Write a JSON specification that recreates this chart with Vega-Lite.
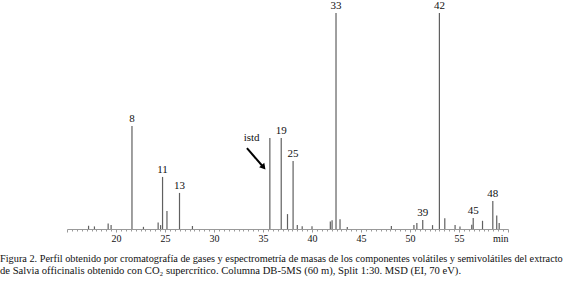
{
  "$schema": "https://vega.github.io/schema/vega-lite/v6.json",
  "width": 441,
  "height": 224,
  "autosize": "none",
  "padding": {"left": 67, "top": 5, "right": 58, "bottom": 52},
  "background": "white",
  "config": {"view": {"stroke": null}, "font": "Liberation Serif"},
  "title": {
    "text": "Figura 2. Perfil obtenido por cromatografía de gases y espectrometría de masas de los componentes volátiles y semivolátiles del extracto",
    "subtitle": "de Salvia officinalis obtenido con CO₂ supercrítico. Columna DB-5MS (60 m), Split 1:30. MSD (EI, 70 eV).",
    "orient": "bottom",
    "anchor": "start",
    "frame": "group",
    "dx": -67,
    "offset": 11,
    "font": "Liberation Serif",
    "fontSize": 10.3,
    "fontWeight": "normal",
    "color": "#111",
    "subtitleFont": "Liberation Serif",
    "subtitleFontSize": 10.6,
    "subtitleColor": "#111",
    "subtitlePadding": 1.5
  },
  "datasets": {
    "peaks": [
      {"t": 17.2, "h": 1.5, "label": ""},
      {"t": 17.8, "h": 1.2, "label": ""},
      {"t": 19.2, "h": 2.5, "label": ""},
      {"t": 19.5, "h": 1.8, "label": ""},
      {"t": 21.63, "h": 47.7, "label": "8"},
      {"t": 22.8, "h": 1.0, "label": ""},
      {"t": 24.3, "h": 3.0, "label": ""},
      {"t": 24.55, "h": 1.8, "label": ""},
      {"t": 24.75, "h": 24.1, "label": "11"},
      {"t": 25.2, "h": 8.3, "label": ""},
      {"t": 26.48, "h": 16.7, "label": "13"},
      {"t": 27.8, "h": 1.4, "label": ""},
      {"t": 35.7, "h": 42.1, "label": ""},
      {"t": 36.86, "h": 42.1, "label": "19"},
      {"t": 37.5, "h": 6.9, "label": ""},
      {"t": 38.07, "h": 31.5, "label": "25"},
      {"t": 38.5, "h": 1.8, "label": ""},
      {"t": 39.0, "h": 1.3, "label": ""},
      {"t": 40.0, "h": 1.3, "label": ""},
      {"t": 41.87, "h": 3.5, "label": ""},
      {"t": 42.05, "h": 4.0, "label": ""},
      {"t": 42.45, "h": 100, "label": "33"},
      {"t": 42.86, "h": 4.5, "label": ""},
      {"t": 43.6, "h": 0.9, "label": ""},
      {"t": 48.1, "h": 1.4, "label": ""},
      {"t": 50.4, "h": 1.8, "label": ""},
      {"t": 50.7, "h": 2.8, "label": ""},
      {"t": 51.3, "h": 4.2, "label": "39"},
      {"t": 52.3, "h": 1.8, "label": ""},
      {"t": 53.0, "h": 100, "label": "42"},
      {"t": 53.55, "h": 5.0, "label": ""},
      {"t": 54.6, "h": 1.8, "label": ""},
      {"t": 55.1, "h": 1.2, "label": ""},
      {"t": 56.3, "h": 2.0, "label": ""},
      {"t": 56.45, "h": 5.1, "label": "45"},
      {"t": 57.4, "h": 3.8, "label": ""},
      {"t": 58.45, "h": 13.0, "label": "48"},
      {"t": 58.85, "h": 6.3, "label": ""},
      {"t": 59.1, "h": 2.8, "label": ""}
    ],
    "arrow": [
      {"t1": 33.36, "h1": 37.4, "t2": 35.05, "h2": 28.6}
    ],
    "head": [
      {"t": 35.06, "h": 28.6}
    ],
    "istd": [
      {"t": 33.84, "h": 42.2, "label": "istd"}
    ]
  },
  "layer": [
    {
      "data": {"name": "peaks"},
      "mark": {"type": "rule", "color": "#606060", "strokeWidth": 1.2},
      "encoding": {
        "x": {
          "field": "t", "type": "quantitative",
          "scale": {"domain": [15, 60], "nice": false, "zero": false},
          "axis": {
            "values": [15, 15.5, 16, 16.5, 17, 17.5, 18, 18.5, 19, 19.5, 20, 20.5, 21, 21.5, 22, 22.5, 23, 23.5, 24, 24.5, 25, 25.5, 26, 26.5, 27, 27.5, 28, 28.5, 29, 29.5, 30, 30.5, 31, 31.5, 32, 32.5, 33, 33.5, 34, 34.5, 35, 35.5, 36, 36.5, 37, 37.5, 38, 38.5, 39, 39.5, 40, 40.5, 41, 41.5, 42, 42.5, 43, 43.5, 44, 44.5, 45, 45.5, 46, 46.5, 47, 47.5, 48, 48.5, 49, 49.5, 50, 50.5, 51, 51.5, 52, 52.5, 53, 53.5, 54, 54.5, 55, 55.5, 56, 56.5, 57, 57.5, 58, 58.5, 59, 59.5, 60],
            "tickCount": 200,
            "labelExpr": "datum.value == 60 ? 'min' : (datum.value % 5 == 0 && datum.value > 15 ? '' + datum.value : '')",
            "labelAlign": {"condition": {"test": "datum.value == 60", "value": "right"}, "value": "center"},
            "labelOverlap": false,
            "labelSeparation": 0,
            "labelFont": "Liberation Serif",
            "labelFontSize": 10,
            "labelColor": "#111",
            "labelPadding": 1,
            "tickSize": {"condition": {"test": "datum.value % 5 == 0", "value": 3}, "value": 2},
            "tickColor": "#999",
            "domainColor": "#999",
            "grid": false,
            "title": null
          }
        },
        "y": {
          "field": "h", "type": "quantitative",
          "scale": {"domain": [0, 103.7], "nice": false},
          "axis": null
        },
        "y2": {"datum": 0}
      }
    },
    {
      "data": {"name": "peaks"},
      "transform": [{"filter": "datum.label != ''"}],
      "mark": {"type": "text", "baseline": "alphabetic", "dy": -4, "font": "Liberation Serif", "fontSize": 11, "color": "#111"},
      "encoding": {
        "x": {"field": "t", "type": "quantitative"},
        "y": {"field": "h", "type": "quantitative"},
        "text": {"field": "label"}
      }
    },
    {
      "data": {"name": "istd"},
      "mark": {"type": "text", "baseline": "middle", "font": "Liberation Serif", "fontSize": 11, "color": "#111"},
      "encoding": {
        "x": {"field": "t", "type": "quantitative"},
        "y": {"field": "h", "type": "quantitative"},
        "text": {"field": "label"}
      }
    },
    {
      "data": {"name": "arrow"},
      "mark": {"type": "rule", "color": "#000", "strokeWidth": 2},
      "encoding": {
        "x": {"field": "t1", "type": "quantitative"},
        "x2": {"field": "t2"},
        "y": {"field": "h1", "type": "quantitative"},
        "y2": {"field": "h2"}
      }
    },
    {
      "data": {"name": "head"},
      "mark": {"type": "point", "shape": "triangle-up", "filled": true, "color": "#000", "size": 45, "angle": 140, "opacity": 1},
      "encoding": {
        "x": {"field": "t", "type": "quantitative"},
        "y": {"field": "h", "type": "quantitative"}
      }
    }
  ]
}
